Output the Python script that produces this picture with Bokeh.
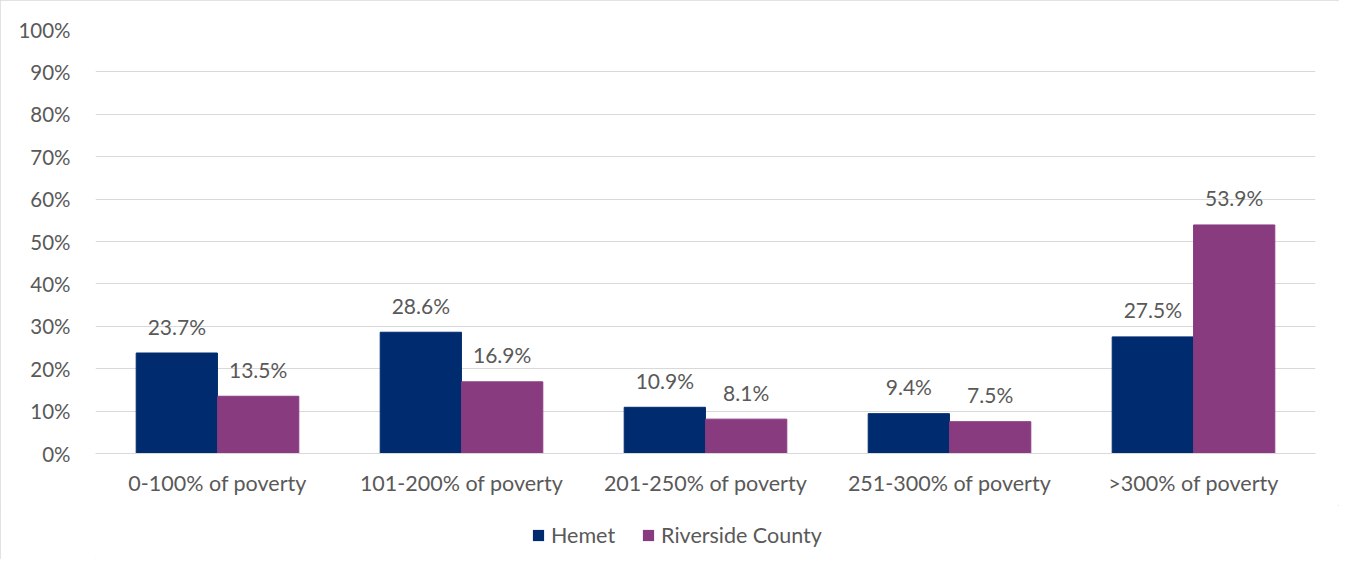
from bokeh.plotting import figure
from bokeh.layouts import column
from bokeh.models import ColumnDataSource, FactorRange, Range1d, FixedTicker, Legend, LegendItem
from bokeh.transform import dodge
from bokeh.core.properties import value
from bokeh.embed import file_html
from bokeh.resources import INLINE

categories = ["0-100% of poverty", "101-200% of poverty", "201-250% of poverty",
              "251-300% of poverty", ">300% of poverty"]
hemet = [23.7, 28.6, 10.9, 9.4, 27.5]
riverside = [13.5, 16.9, 8.1, 7.5, 53.9]
series_names = ["Hemet", "Riverside County"]
series_colors = ["#002C6F", "#893B80"]
y_ticks = [0, 10, 20, 30, 40, 50, 60, 70, 80, 90, 100]

FONT = "Lato"
TEXT_COLOR = "#595959"
W = 1339

source = ColumnDataSource(dict(
    cat=categories,
    hemet=hemet,
    riverside=riverside,
    hemet_lbl=[f"{v:.1f}%" for v in hemet],
    riverside_lbl=[f"{v:.1f}%" for v in riverside],
))

p = figure(x_range=FactorRange(*categories), y_range=Range1d(0, 100),
           width=W, height=505, output_backend="svg", toolbar_location=None,
           min_border_left=95, min_border_right=24, min_border_top=29, min_border_bottom=52)
p.outline_line_color = None

bw = 0.333
off = 0.1667
r1 = p.vbar(x=dodge("cat", -off, range=p.x_range), top="hemet", width=bw, source=source,
            fill_color=series_colors[0], line_color=series_colors[0])
r2 = p.vbar(x=dodge("cat", off, range=p.x_range), top="riverside", width=bw, source=source,
            fill_color=series_colors[1], line_color=series_colors[1])

p.text(x=dodge("cat", -off, range=p.x_range), y="hemet", text="hemet_lbl", source=source,
       text_align="center", text_baseline="alphabetic", y_offset=-27,
       text_font=value(FONT), text_font_size="21px", text_color=TEXT_COLOR)
p.text(x=dodge("cat", off, range=p.x_range), y="riverside", text="riverside_lbl", source=source,
       text_align="center", text_baseline="alphabetic", y_offset=-27,
       text_font=value(FONT), text_font_size="21px", text_color=TEXT_COLOR)

# axes
p.yaxis.ticker = FixedTicker(ticks=y_ticks)
p.yaxis.major_label_overrides = {t: f"{t}%" for t in y_ticks}
p.yaxis.axis_line_color = None
p.yaxis.major_tick_line_color = None
p.yaxis.minor_tick_line_color = None
p.yaxis.major_label_standoff = 19
p.yaxis.major_label_text_font = FONT
p.yaxis.major_label_text_font_size = "20.5px"
p.yaxis.major_label_text_color = TEXT_COLOR

p.xaxis.axis_line_color = "#D9D9D9"
p.xaxis.major_tick_line_color = None
p.xaxis.minor_tick_line_color = None
p.xaxis.major_label_standoff = 10
p.xaxis.major_label_text_font = FONT
p.xaxis.major_label_text_font_size = "21.5px"
p.xaxis.major_label_text_color = TEXT_COLOR

p.xgrid.grid_line_color = None
p.ygrid.grid_line_color = "#D9D9D9"
p.ygrid.grid_line_width = 1

# legend strip below the chart
lg = figure(width=W, height=54, output_backend="svg", toolbar_location=None,
            x_range=Range1d(0, 1), y_range=Range1d(0, 1),
            min_border=0, x_axis_type=None, y_axis_type=None)
lg.outline_line_color = None
lg.xgrid.grid_line_color = None
lg.ygrid.grid_line_color = None
swatch = ColumnDataSource(dict(x=[0.5], top=[0.5], bottom=[0.5]))
d1 = lg.vbar(x="x", top="top", bottom="bottom", width=0.0, source=swatch,
             fill_color=series_colors[0], line_color=None)
d2 = lg.vbar(x="x", top="top", bottom="bottom", width=0.0, source=swatch,
             fill_color=series_colors[1], line_color=None)
legend = Legend(items=[LegendItem(label=series_names[0], renderers=[d1]),
                       LegendItem(label=series_names[1], renderers=[d2])],
                location=(436, 11), orientation="horizontal",
                glyph_width=14, glyph_height=14, label_standoff=6, spacing=26,
                padding=0, margin=0, border_line_color=None, background_fill_alpha=0,
                label_text_font=FONT, label_text_font_size="21.5px",
                label_text_color=TEXT_COLOR)
lg.add_layout(legend, "center")

layout = column(p, lg, spacing=0)
layout.styles = {"outline": "1px solid #d9d9d9", "outline-offset": "-1px"}

open("out.html", "w").write(file_html(layout, INLINE))
